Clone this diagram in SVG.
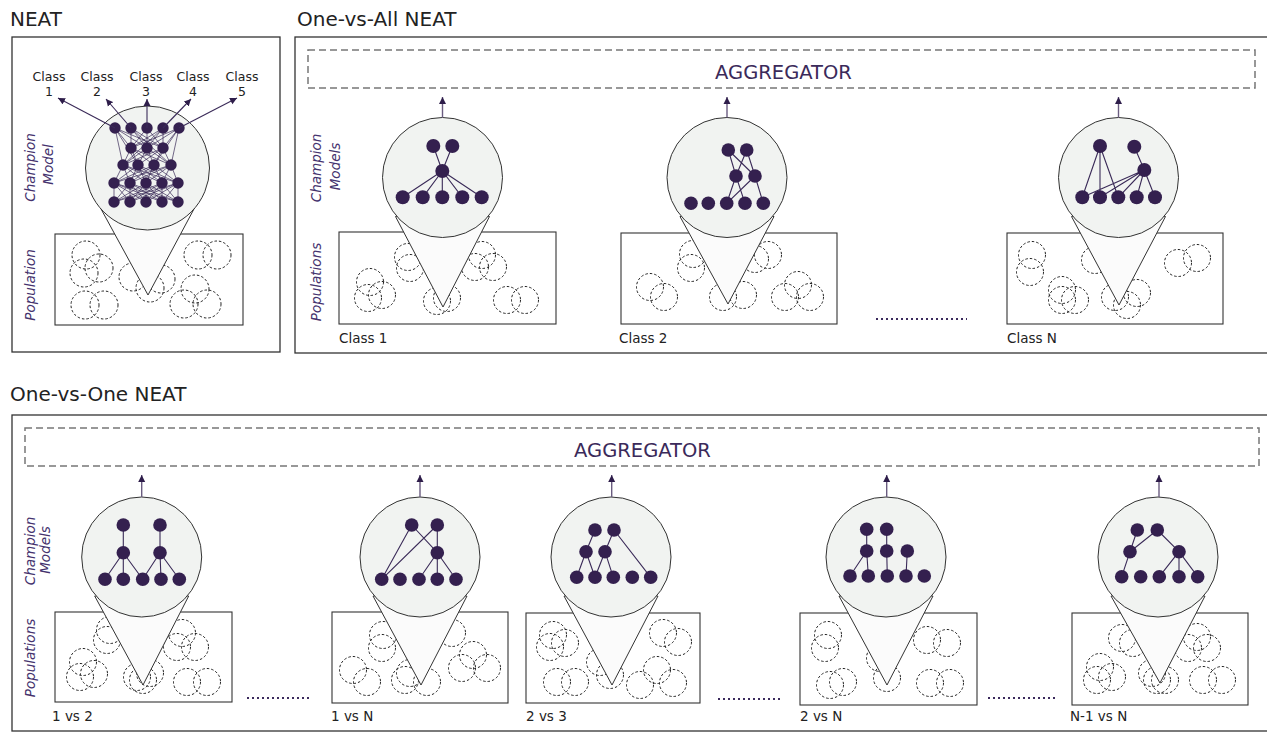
<svg xmlns="http://www.w3.org/2000/svg" width="1267" height="732" viewBox="0 0 1267 732">
<defs>
<marker id="ah" viewBox="0 0 10 10" refX="10" refY="5" markerWidth="7" markerHeight="8" markerUnits="userSpaceOnUse" orient="auto"><path d="M0,0 L10,5 L0,10 z" fill="#2e1d4a"/></marker>
<style>
.panel{fill:none;stroke:#333;stroke-width:1.3}
.agg{fill:none;stroke:#777;stroke-width:1.5;stroke-dasharray:7 4}
.pop{fill:#fff;stroke:#333;stroke-width:1.1}
.pc{fill:none;stroke:#222;stroke-width:1;stroke-dasharray:2.5 2}
.cone{fill:#fbfbfb;stroke:#333;stroke-width:1}
.lens{fill:#f1f3f1;stroke:#333;stroke-width:1}
.n{fill:#34204f}
.e{fill:none;stroke:#3a2a58;stroke-width:1.1}
.ne{fill:none;stroke:#3a2a58;stroke-width:0.7}
.arr{stroke:#6a5c80;stroke-width:1.4;fill:none;marker-end:url(#ah)}
.carr{stroke:#3a2a58;stroke-width:1.1;fill:none;marker-end:url(#ah)}
.dots{stroke:#3b2a5c;stroke-width:2;stroke-dasharray:2 3;fill:none}
.title{font-family:"DejaVu Sans",sans-serif;font-size:20px;fill:#222}
.aggt{font-family:"DejaVu Sans",sans-serif;font-size:19.5px;fill:#3b2a5a;text-anchor:middle}
.lab{font-family:"DejaVu Sans",sans-serif;font-size:13.5px;fill:#222}
.cls{font-family:"DejaVu Sans",sans-serif;font-size:12.5px;fill:#222;text-anchor:middle}
.rot{font-family:"DejaVu Sans",sans-serif;font-size:13.5px;font-style:italic;fill:#45336e;text-anchor:middle}
</style>
</defs>

<!-- Panels and titles -->
<g id="neat-panel">
<text class="title" x="10" y="26">NEAT</text>
<rect class="panel" x="12" y="37" width="268" height="315"/>
<text class="rot" transform="translate(35,167.5) rotate(-90)">Champion</text>
<text class="rot" transform="translate(53,164.5) rotate(-90)">Model</text>
<text class="rot" transform="translate(35,285) rotate(-90)">Population</text>
<text class="cls" x="49" y="81">Class</text><text class="cls" x="49" y="96">1</text>
<text class="cls" x="97" y="81">Class</text><text class="cls" x="97" y="96">2</text>
<text class="cls" x="146" y="81">Class</text><text class="cls" x="146" y="96">3</text>
<text class="cls" x="193" y="81">Class</text><text class="cls" x="193" y="96">4</text>
<text class="cls" x="242" y="81">Class</text><text class="cls" x="242" y="96">5</text>
</g>

<g id="ova-panel">
<text class="title" x="297" y="26">One-vs-All NEAT</text>
<rect class="panel" x="295" y="37" width="980" height="316"/>
<rect class="agg" x="308" y="50" width="947" height="38"/>
<text class="aggt" x="783.5" y="79">AGGREGATOR</text>
<text class="rot" transform="translate(321,168) rotate(-90)">Champion</text>
<text class="rot" transform="translate(340,166.5) rotate(-90)">Models</text>
<text class="rot" transform="translate(321,282) rotate(-90)">Populations</text>
<text class="lab" x="339" y="343">Class 1</text>
<text class="lab" x="619" y="343">Class 2</text>
<text class="lab" x="1007" y="343">Class N</text>
<line class="dots" x1="876" y1="319" x2="967" y2="319"/>
</g>

<g id="ovo-panel">
<text class="title" x="10" y="401">One-vs-One NEAT</text>
<rect class="panel" x="12" y="415" width="1263" height="316"/>
<rect class="agg" x="25" y="428" width="1234" height="38"/>
<text class="aggt" x="642.5" y="457">AGGREGATOR</text>
<text class="rot" transform="translate(35,551) rotate(-90)">Champion</text>
<text class="rot" transform="translate(50,550) rotate(-90)">Models</text>
<text class="rot" transform="translate(35,658) rotate(-90)">Populations</text>
<text class="lab" x="52" y="721">1 vs 2</text>
<text class="lab" x="331" y="721">1 vs N</text>
<text class="lab" x="526" y="721">2 vs 3</text>
<text class="lab" x="800" y="721">2 vs N</text>
<text class="lab" x="1070" y="721">N-1 vs N</text>
<line class="dots" x1="247" y1="698" x2="312" y2="698"/>
<line class="dots" x1="718" y1="699" x2="783" y2="699"/>
<line class="dots" x1="988" y1="698" x2="1055" y2="698"/>
</g>

<!-- NEAT node -->
<g id="neat-model">
<rect class="pop" x="55" y="234" width="188" height="91"/>
<circle class="pc" cx="86" cy="255" r="14"/><circle class="pc" cx="99" cy="268" r="14"/><circle class="pc" cx="84" cy="273" r="14"/>
<circle class="pc" cx="85" cy="305" r="14"/><circle class="pc" cx="104" cy="305" r="14"/>
<circle class="pc" cx="133" cy="277" r="14"/><circle class="pc" cx="161" cy="279" r="14"/><circle class="pc" cx="150" cy="288" r="14"/>
<circle class="pc" cx="198" cy="255" r="14"/><circle class="pc" cx="217" cy="255" r="14"/>
<circle class="pc" cx="195" cy="289" r="14"/><circle class="pc" cx="184" cy="304" r="14"/><circle class="pc" cx="207" cy="304" r="14"/>
<polygon class="cone" points="100.5,208 148,295 194.5,208"/>
<circle class="lens" cx="147.5" cy="168" r="62"/>
<path class="ne" d="M115 128L131 148M115 128L147 148M115 128L163 148M131 128L131 148M131 128L147 148M131 128L163 148M147 128L131 148M147 128L147 148M147 128L163 148M163 128L131 148M163 128L147 148M163 128L163 148M179 128L131 148M179 128L147 148M179 128L163 148
M115 128L123 165M115 128L138 165M179 128L171 165M179 128L154 165M131 128L171 165M163 128L123 165
M131 148L123 165M131 148L138 165M131 148L154 165M131 148L171 165M147 148L123 165M147 148L138 165M147 148L154 165M147 148L171 165M163 148L123 165M163 148L138 165M163 148L154 165M163 148L171 165
M123 165L114 183M123 165L130 183M123 165L146 183M123 165L162 183M123 165L178 183M138 165L114 183M138 165L130 183M138 165L146 183M138 165L162 183M138 165L178 183M154 165L114 183M154 165L130 183M154 165L146 183M154 165L162 183M154 165L178 183M171 165L114 183M171 165L130 183M171 165L146 183M171 165L162 183M171 165L178 183
M114 183L114 202M114 183L130 202M114 183L146 202M114 183L162 202M114 183L178 202M130 183L114 202M130 183L130 202M130 183L146 202M130 183L162 202M130 183L178 202M146 183L114 202M146 183L130 202M146 183L146 202M146 183L162 202M146 183L178 202M162 183L114 202M162 183L130 202M162 183L146 202M162 183L162 202M162 183L178 202M178 183L114 202M178 183L130 202M178 183L146 202M178 183L162 202M178 183L178 202"/>
<g class="n">
<circle cx="115" cy="128" r="5.7"/><circle cx="131" cy="128" r="5.7"/><circle cx="147" cy="128" r="5.7"/><circle cx="163" cy="128" r="5.7"/><circle cx="179" cy="128" r="5.7"/>
<circle cx="131" cy="148" r="5.7"/><circle cx="147" cy="148" r="5.7"/><circle cx="163" cy="148" r="5.7"/>
<circle cx="123" cy="165" r="5.7"/><circle cx="138" cy="165" r="5.7"/><circle cx="154" cy="165" r="5.7"/><circle cx="171" cy="165" r="5.7"/>
<circle cx="114" cy="183" r="5.7"/><circle cx="130" cy="183" r="5.7"/><circle cx="146" cy="183" r="5.7"/><circle cx="162" cy="183" r="5.7"/><circle cx="178" cy="183" r="5.7"/>
<circle cx="114" cy="202" r="5.7"/><circle cx="130" cy="202" r="5.7"/><circle cx="146" cy="202" r="5.7"/><circle cx="162" cy="202" r="5.7"/><circle cx="178" cy="202" r="5.7"/>
</g>
</g>

<!-- One-vs-All nodes -->
<g id="ova-class1">
<rect class="pop" x="339" y="232" width="217" height="92"/>
<circle class="pc" cx="370" cy="282" r="13.5"/><circle class="pc" cx="382" cy="295" r="13.5"/><circle class="pc" cx="368" cy="298" r="13.5"/>
<circle class="pc" cx="408" cy="257" r="13.5"/><circle class="pc" cx="410" cy="268" r="13.5"/>
<circle class="pc" cx="437" cy="301" r="13.5"/><circle class="pc" cx="447" cy="298" r="13.5"/>
<circle class="pc" cx="482" cy="255" r="13.5"/><circle class="pc" cx="493" cy="267" r="13.5"/><circle class="pc" cx="475" cy="267" r="13.5"/>
<circle class="pc" cx="507" cy="300" r="13.5"/><circle class="pc" cx="525" cy="300" r="13.5"/>
<polygon class="cone" points="395.5,216.5 443,307 489.5,216.5"/>
<circle class="lens" cx="442.5" cy="177.5" r="60"/>
<path class="e" d="M433.3 146L442.3 171M452.3 146L442.3 171M442.3 171L402.7 197.3M442.3 171L422.7 197.3M442.3 171L442.3 197.3M442.3 171L462.3 197.3M442.3 171L481.7 197.3"/>
<g class="n"><circle cx="433.3" cy="146" r="7"/><circle cx="452.3" cy="146" r="7"/><circle cx="442.3" cy="171" r="7"/>
<circle cx="402.7" cy="197.3" r="7"/><circle cx="422.7" cy="197.3" r="7"/><circle cx="442.3" cy="197.3" r="7"/><circle cx="462.3" cy="197.3" r="7"/><circle cx="481.7" cy="197.3" r="7"/></g>
</g>

<g id="ova-class2">
<rect class="pop" x="621" y="233" width="216" height="91"/>
<circle class="pc" cx="650" cy="287" r="13.5"/><circle class="pc" cx="664" cy="297" r="13.5"/>
<circle class="pc" cx="693" cy="254" r="13.5"/><circle class="pc" cx="691" cy="268" r="13.5"/>
<circle class="pc" cx="755" cy="259" r="13.5"/><circle class="pc" cx="768" cy="255" r="13.5"/>
<circle class="pc" cx="723" cy="297" r="13.5"/><circle class="pc" cx="743" cy="295" r="13.5"/>
<circle class="pc" cx="798" cy="285" r="13.5"/><circle class="pc" cx="785" cy="297" r="13.5"/><circle class="pc" cx="810" cy="297" r="13.5"/>
<polygon class="cone" points="680,216.5 728,304 774,216.5"/>
<circle class="lens" cx="727" cy="177.5" r="60"/>
<path class="e" d="M728.3 150L736 176M728.3 150L755 176M746.7 150L736 176M746.7 150L755 176M736 176L726.7 203.3M736 176L745 203.3M755 176L726.7 203.3M755 176L763.3 203.3"/>
<g class="n"><circle cx="728.3" cy="150" r="6.8"/><circle cx="746.7" cy="150" r="6.8"/><circle cx="736" cy="176" r="6.8"/><circle cx="755" cy="176" r="6.8"/>
<circle cx="691" cy="203.3" r="6.8"/><circle cx="708.3" cy="203.3" r="6.8"/><circle cx="726.7" cy="203.3" r="6.8"/><circle cx="745" cy="203.3" r="6.8"/><circle cx="763.3" cy="203.3" r="6.8"/></g>
</g>

<g id="ova-classN">
<rect class="pop" x="1007" y="233" width="216" height="91"/>
<circle class="pc" cx="1032" cy="255" r="13.5"/><circle class="pc" cx="1030" cy="272" r="13.5"/>
<circle class="pc" cx="1062" cy="290" r="13.5"/><circle class="pc" cx="1062" cy="300" r="13.5"/><circle class="pc" cx="1075" cy="300" r="13.5"/>
<circle class="pc" cx="1095" cy="260" r="13.5"/>
<circle class="pc" cx="1115" cy="297" r="13.5"/><circle class="pc" cx="1127" cy="305" r="13.5"/><circle class="pc" cx="1137" cy="293" r="13.5"/>
<circle class="pc" cx="1178" cy="263" r="13.5"/><circle class="pc" cx="1197" cy="258" r="13.5"/>
<polygon class="cone" points="1071.5,216.5 1119,305 1165.5,216.5"/>
<circle class="lens" cx="1118.5" cy="177.5" r="60"/>
<path class="e" d="M1100 146L1082.3 197.3M1100 146L1100 197.3M1100 146L1118.3 197.3M1134.3 146.7L1144.3 170M1144.3 170L1082.3 197.3M1144.3 170L1100 197.3M1144.3 170L1118.3 197.3M1144.3 170L1136.7 197.3M1144.3 170L1155 197.3"/>
<g class="n"><circle cx="1100" cy="146" r="7"/><circle cx="1134.3" cy="146.7" r="7"/><circle cx="1144.3" cy="170" r="7"/>
<circle cx="1082.3" cy="197.3" r="7"/><circle cx="1100" cy="197.3" r="7"/><circle cx="1118.3" cy="197.3" r="7"/><circle cx="1136.7" cy="197.3" r="7"/><circle cx="1155" cy="197.3" r="7"/></g>
</g>

<!-- One-vs-One nodes -->
<g id="ovo-1vs2">
<rect class="pop" x="55" y="612" width="177" height="90"/>
<circle class="pc" cx="83" cy="662" r="13.5"/><circle class="pc" cx="80" cy="677" r="13.5"/><circle class="pc" cx="94" cy="674" r="13.5"/>
<circle class="pc" cx="110" cy="630" r="13.5"/><circle class="pc" cx="107" cy="640" r="13.5"/>
<circle class="pc" cx="137" cy="677" r="13.5"/><circle class="pc" cx="143" cy="680" r="13.5"/><circle class="pc" cx="150" cy="673" r="13.5"/>
<circle class="pc" cx="182" cy="633" r="13.5"/><circle class="pc" cx="177" cy="647" r="13.5"/><circle class="pc" cx="195" cy="647" r="13.5"/>
<circle class="pc" cx="187" cy="682" r="13.5"/><circle class="pc" cx="207" cy="682" r="13.5"/>
<polygon class="cone" points="94.7,596 143,685 188.7,596"/>
<circle class="lens" cx="141.7" cy="557" r="60"/>
<path class="e" d="M123.3 525L123.3 552.7M160 525L160 552.7M123.3 552.7L105 579.3M123.3 552.7L123.3 579.3M123.3 552.7L142.7 579.3M160 552.7L142.7 579.3M160 552.7L161 579.3M160 552.7L179.3 579.3"/>
<g class="n"><circle cx="123.3" cy="525" r="6.8"/><circle cx="160" cy="525" r="6.8"/><circle cx="123.3" cy="552.7" r="6.8"/><circle cx="160" cy="552.7" r="6.8"/>
<circle cx="105" cy="579.3" r="6.8"/><circle cx="123.3" cy="579.3" r="6.8"/><circle cx="142.7" cy="579.3" r="6.8"/><circle cx="161" cy="579.3" r="6.8"/><circle cx="179.3" cy="579.3" r="6.8"/></g>
</g>

<g id="ovo-1vsN">
<rect class="pop" x="332" y="612" width="176" height="91"/>
<circle class="pc" cx="353" cy="670" r="13.5"/><circle class="pc" cx="367" cy="682" r="13.5"/>
<circle class="pc" cx="383" cy="635" r="13.5"/><circle class="pc" cx="382" cy="648" r="13.5"/>
<circle class="pc" cx="405" cy="680" r="13.5"/><circle class="pc" cx="410" cy="673" r="13.5"/><circle class="pc" cx="427" cy="682" r="13.5"/>
<circle class="pc" cx="452" cy="633" r="13.5"/>
<circle class="pc" cx="473" cy="655" r="13.5"/><circle class="pc" cx="462" cy="668" r="13.5"/><circle class="pc" cx="487" cy="668" r="13.5"/>
<polygon class="cone" points="373,596 421,685 467,596"/>
<circle class="lens" cx="420" cy="557" r="60"/>
<path class="e" d="M411.7 525L381.7 579.3M437.3 525L381.7 579.3M411.7 525L437.3 552.7M437.3 525L437.3 552.7M437.3 552.7L419 579.3M437.3 552.7L437.3 579.3M437.3 552.7L456 579.3"/>
<g class="n"><circle cx="411.7" cy="525" r="6.8"/><circle cx="437.3" cy="525" r="6.8"/><circle cx="437.3" cy="552.7" r="6.8"/>
<circle cx="381.7" cy="579.3" r="6.8"/><circle cx="400" cy="579.3" r="6.8"/><circle cx="419" cy="579.3" r="6.8"/><circle cx="437.3" cy="579.3" r="6.8"/><circle cx="456" cy="579.3" r="6.8"/></g>
</g>

<g id="ovo-2vs3">
<rect class="pop" x="526" y="613" width="174" height="90"/>
<circle class="pc" cx="553" cy="635" r="13.5"/><circle class="pc" cx="565" cy="643" r="13.5"/><circle class="pc" cx="550" cy="647" r="13.5"/>
<circle class="pc" cx="557" cy="682" r="13.5"/><circle class="pc" cx="575" cy="682" r="13.5"/>
<circle class="pc" cx="600" cy="662" r="13.5"/><circle class="pc" cx="610" cy="675" r="13.5"/>
<circle class="pc" cx="663" cy="633" r="13.5"/><circle class="pc" cx="678" cy="642" r="13.5"/>
<circle class="pc" cx="657" cy="670" r="13.5"/><circle class="pc" cx="640" cy="685" r="13.5"/><circle class="pc" cx="673" cy="683" r="13.5"/>
<polygon class="cone" points="564,596 612,685 658,596"/>
<circle class="lens" cx="611" cy="557" r="60"/>
<path class="e" d="M595 530L586 551.7M614 530L605 551.7M614 530L650.7 577.3M586 551.7L576.7 577.3M586 551.7L595 577.3M605 551.7L595 577.3M605 551.7L613.3 577.3"/>
<g class="n"><circle cx="595" cy="530" r="6.8"/><circle cx="614" cy="530" r="6.8"/><circle cx="586" cy="551.7" r="6.8"/><circle cx="605" cy="551.7" r="6.8"/>
<circle cx="576.7" cy="577.3" r="6.8"/><circle cx="595" cy="577.3" r="6.8"/><circle cx="613.3" cy="577.3" r="6.8"/><circle cx="632.3" cy="577.3" r="6.8"/><circle cx="650.7" cy="577.3" r="6.8"/></g>
</g>

<g id="ovo-2vsN">
<rect class="pop" x="800" y="613" width="177" height="92"/>
<circle class="pc" cx="828" cy="635" r="13.5"/><circle class="pc" cx="825" cy="648" r="13.5"/>
<circle class="pc" cx="830" cy="685" r="13.5"/><circle class="pc" cx="843" cy="682" r="13.5"/>
<circle class="pc" cx="880" cy="658" r="13.5"/><circle class="pc" cx="887" cy="678" r="13.5"/>
<circle class="pc" cx="927" cy="640" r="13.5"/><circle class="pc" cx="947" cy="643" r="13.5"/>
<circle class="pc" cx="930" cy="683" r="13.5"/><circle class="pc" cx="950" cy="683" r="13.5"/>
<polygon class="cone" points="839,596 887,685 933,596"/>
<circle class="lens" cx="886" cy="557" r="60"/>
<path class="e" d="M866.7 529.3L866.7 551M886.7 529.3L886.7 551M866.7 551L850 576M866.7 551L868.3 576M886.7 551L887.3 576M907.3 551L906 576"/>
<g class="n"><circle cx="866.7" cy="529.3" r="6.8"/><circle cx="886.7" cy="529.3" r="6.8"/><circle cx="866.7" cy="551" r="6.8"/><circle cx="886.7" cy="551" r="6.8"/><circle cx="907.3" cy="551" r="6.8"/>
<circle cx="850" cy="576" r="6.8"/><circle cx="868.3" cy="576" r="6.8"/><circle cx="887.3" cy="576" r="6.8"/><circle cx="906" cy="576" r="6.8"/><circle cx="924.3" cy="576" r="6.8"/></g>
</g>

<g id="ovo-N1vsN">
<rect class="pop" x="1072" y="613" width="176" height="92"/>
<circle class="pc" cx="1122" cy="638" r="13.5"/><circle class="pc" cx="1133" cy="643" r="13.5"/>
<circle class="pc" cx="1100" cy="667" r="13.5"/><circle class="pc" cx="1097" cy="680" r="13.5"/><circle class="pc" cx="1112" cy="677" r="13.5"/>
<circle class="pc" cx="1152" cy="673" r="13.5"/><circle class="pc" cx="1157" cy="680" r="13.5"/><circle class="pc" cx="1165" cy="680" r="13.5"/>
<circle class="pc" cx="1197" cy="637" r="13.5"/><circle class="pc" cx="1207" cy="648" r="13.5"/><circle class="pc" cx="1188" cy="648" r="13.5"/>
<circle class="pc" cx="1203" cy="680" r="13.5"/><circle class="pc" cx="1222" cy="680" r="13.5"/>
<polygon class="cone" points="1111,596 1160,683 1205,596"/>
<circle class="lens" cx="1158" cy="557" r="60"/>
<path class="e" d="M1137.3 530L1130 551.7M1157.3 530L1130 551.7M1157.3 530L1179 551.7M1130 551.7L1121.7 576.7M1179 551.7L1159.3 576.7M1179 551.7L1179 576.7M1179 551.7L1197.7 576.7"/>
<g class="n"><circle cx="1137.3" cy="530" r="6.8"/><circle cx="1157.3" cy="530" r="6.8"/><circle cx="1130" cy="551.7" r="6.8"/><circle cx="1179" cy="551.7" r="6.8"/>
<circle cx="1121.7" cy="576.7" r="6.8"/><circle cx="1140.7" cy="576.7" r="6.8"/><circle cx="1159.3" cy="576.7" r="6.8"/><circle cx="1179" cy="576.7" r="6.8"/><circle cx="1197.7" cy="576.7" r="6.8"/></g>
</g>

<!-- Connectors -->
<g id="connectors">
<line class="carr" x1="115" y1="128" x2="58" y2="98"/>
<line class="carr" x1="131" y1="128" x2="106" y2="99"/>
<line class="carr" x1="147" y1="128" x2="147" y2="99"/>
<line class="carr" x1="163" y1="128" x2="191" y2="99"/>
<line class="carr" x1="179" y1="128" x2="237" y2="98"/>
<line class="arr" x1="442.5" y1="117.5" x2="442.5" y2="97"/>
<line class="arr" x1="727" y1="117.5" x2="727" y2="97"/>
<line class="arr" x1="1118.5" y1="117.5" x2="1118.5" y2="97"/>
<line class="arr" x1="141.7" y1="497" x2="141.7" y2="475"/>
<line class="arr" x1="420" y1="497" x2="420" y2="475"/>
<line class="arr" x1="611.7" y1="497" x2="611.7" y2="475"/>
<line class="arr" x1="886.7" y1="497" x2="886.7" y2="475"/>
<line class="arr" x1="1159" y1="497" x2="1159" y2="475"/>
</g>
</svg>
